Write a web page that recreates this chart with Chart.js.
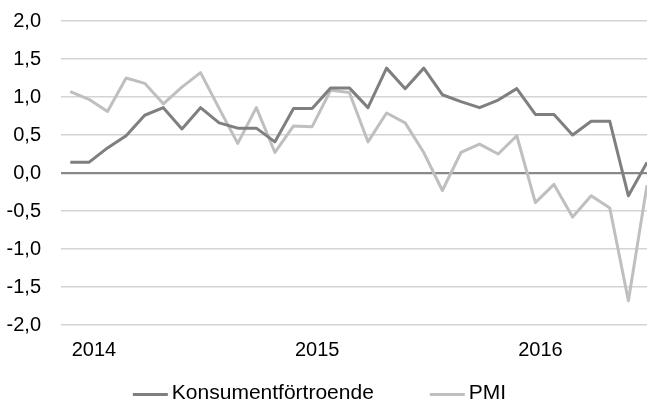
<!DOCTYPE html>
<html><head><meta charset="utf-8">
<script src="https://cdn.jsdelivr.net/npm/chart.js@4"></script>
<style>html,body{margin:0;padding:0;background:#fff;overflow:hidden}canvas{display:block}</style>
</head><body>
<canvas id="c" width="647" height="403"></canvas>
<script>
// Monthly observations, Dec 2013 – Jul 2016
const months = ['2013-12','2014-01','2014-02','2014-03','2014-04','2014-05','2014-06','2014-07','2014-08','2014-09','2014-10','2014-11','2014-12',
  '2015-01','2015-02','2015-03','2015-04','2015-05','2015-06','2015-07','2015-08','2015-09','2015-10','2015-11','2015-12',
  '2016-01','2016-02','2016-03','2016-04','2016-05','2016-06','2016-07'];
const konsument = [0.14,0.14,0.33,0.49,0.76,0.86,0.58,0.86,0.66,0.59,0.59,0.41,0.85,0.85,1.12,1.12,0.86,1.38,1.11,1.38,1.03,0.94,0.86,0.96,1.11,0.77,0.77,0.50,0.68,0.68,-0.30,0.14];
const pmi = [1.07,0.97,0.81,1.25,1.18,0.91,1.13,1.32,0.85,0.39,0.86,0.27,0.62,0.61,1.09,1.06,0.41,0.79,0.66,0.27,-0.23,0.27,0.38,0.25,0.49,-0.39,-0.15,-0.58,-0.30,-0.46,-1.68,-0.16];
const seriesNames = ['Konsumentförtroende','PMI'];
const yearLabels = ['2014','2015','2016'];
const yMin = -2, yMax = 2, yStep = 0.5;

const yearIdx = yearLabels.map(y => months.indexOf(y + '-01'));
const toPts = arr => arr.map((v, i) => ({x: i, y: v}));
const FONT = '"Liberation Sans", Arial, sans-serif';
const colors = ['#7f7f7f', '#bfbfbf'];

const legendPlugin = {
  id: 'bottomLegend',
  afterDraw(chart) {
    const ctx = chart.ctx;
    ctx.save();
    ctx.font = '21px ' + FONT;
    ctx.textBaseline = 'middle';
    const lineLen = 35, gapText = 4, gapItems = 56, y = 393.5;
    const widths = seriesNames.map(n => lineLen + gapText + ctx.measureText(n).width);
    const total = widths.reduce((a, b) => a + b, 0) + gapItems * (seriesNames.length - 1);
    let x = chart.width / 2 - total / 2 - 4;
    seriesNames.forEach((n, i) => {
      ctx.strokeStyle = colors[i];
      ctx.lineWidth = 3;
      ctx.beginPath();
      ctx.moveTo(x, y + 1);
      ctx.lineTo(x + lineLen, y + 1);
      ctx.stroke();
      ctx.fillStyle = '#000';
      ctx.fillText(n, x + lineLen + gapText, y);
      x += widths[i] + gapItems;
    });
    ctx.restore();
  }
};

new Chart(document.getElementById('c'), {
  type: 'line',
  data: {
    datasets: [
      {label: seriesNames[0], data: toPts(konsument), borderColor: colors[0], borderWidth: 3, pointRadius: 0, tension: 0, borderJoinStyle: 'round', fill: false},
      {label: seriesNames[1], data: toPts(pmi), borderColor: colors[1], borderWidth: 3, pointRadius: 0, tension: 0, borderJoinStyle: 'round', fill: false}
    ]
  },
  options: {
    responsive: false,
    animation: false,
    devicePixelRatio: 1,
    layout: {padding: {top: 21, right: 0, bottom: 0, left: 0}},
    plugins: {legend: {display: false}, tooltip: {enabled: false}},
    scales: {
      x: {
        type: 'linear',
        min: -0.5,
        max: months.length - 1,
        afterBuildTicks: s => { s.ticks = yearIdx.map(v => ({value: v})); },
        afterFit: s => { s.height = 78; s.paddingLeft = 0; s.paddingRight = 0; },
        grid: {display: false, drawTicks: false},
        border: {display: false},
        ticks: {
          color: '#000', font: {family: FONT, size: 20}, padding: 13, labelOffset: 5,
          maxRotation: 0, autoSkip: false,
          callback: (v) => { const k = yearIdx.indexOf(v); return k >= 0 ? yearLabels[k] : ''; }
        }
      },
      y: {
        min: yMin, max: yMax,
        afterFit: s => { s.width = 61; s.paddingTop = 0; s.paddingBottom = 0; },
        grid: {
          drawTicks: false,
          color: c => c.tick.value === 0 ? '#898989' : '#d4d4d4',
          lineWidth: c => c.tick.value === 0 ? 2.2 : 1.5
        },
        border: {display: false},
        ticks: {
          stepSize: yStep, padding: 20, color: '#000', font: {family: FONT, size: 20},
          callback: v => v.toFixed(1).replace('.', ',')
        }
      }
    }
  },
  plugins: [legendPlugin]
});
</script>
</body></html>
